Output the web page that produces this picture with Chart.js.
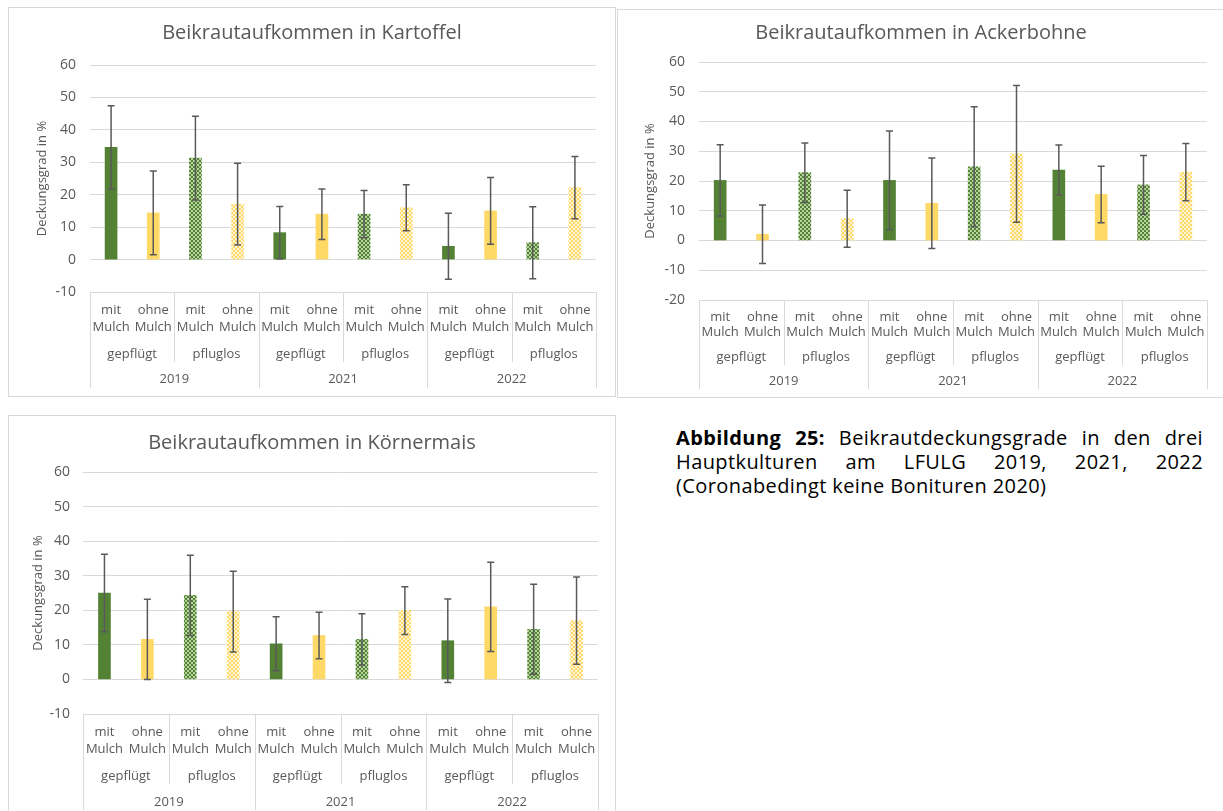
<!DOCTYPE html>
<html>
<head>
<meta charset="utf-8">
<script src="https://cdn.jsdelivr.net/npm/chart.js@4.4.1/dist/chart.umd.min.js"></script>
<style>
  body { margin: 0; background: #fff; width: 1223px; height: 811px; overflow: hidden; position: relative; font-family: "Open Sans", sans-serif; }
  .box { position: absolute; border: 1px solid #d9d9d9; background: #fff; }
  .box canvas { display: block; }
  #caption { position: absolute; left: 676px; top: 426px; width: 527px; font-size: 20px; letter-spacing: 0.4px; line-height: 24px; color: #000; }
  #caption div { text-align: justify; text-align-last: justify; }
  #caption div.last { text-align-last: left; }
</style>
</head>
<body>
<div class="box" style="left:8px;top:7px;width:606px;height:388px"><canvas id="kartoffel" width="606" height="388"></canvas></div>
<div class="box" style="left:617px;top:9px;width:606px;height:387px"><canvas id="ackerbohne" width="606" height="387"></canvas></div>
<div class="box" style="left:8px;top:415px;width:606px;height:400px"><canvas id="koernermais" width="606" height="400"></canvas></div>
<div id="caption">
  <div><b>Abbildung 25:</b> Beikrautdeckungsgrade in den drei</div>
  <div>Hauptkulturen am LFULG 2019, 2021, 2022</div>
  <div class="last">(Coronabedingt keine Bonituren 2020)</div>
</div>
<script>
// category levels: mulch inside tillage inside year
const mulchLabels = [['mit', 'Mulch'], ['ohne', 'Mulch']];
const tillageLabels = ['gepflügt', 'pfluglos'];
const yearLabels = ['2019', '2021', '2022'];

// mean weed cover (%) and standard deviation per category
const kartoffelMean = [34.6, 14.4, 31.3, 17.1, 8.3, 14.0, 14.0, 16.0, 4.1, 15.0, 5.2, 22.2];
const kartoffelSd = [12.8, 12.9, 12.9, 12.6, 8.1, 7.8, 7.3, 7.1, 10.2, 10.3, 11.1, 9.6];

const ackerbohneMean = [20.2, 2.1, 22.8, 7.3, 20.2, 12.5, 24.8, 29.1, 23.7, 15.5, 18.7, 23.0];
const ackerbohneSd = [12.0, 9.8, 10.0, 9.6, 16.6, 15.2, 20.2, 23.0, 8.4, 9.5, 9.9, 9.6];

const koernermaisMean = [25.0, 11.6, 24.3, 19.6, 10.3, 12.7, 11.6, 19.9, 11.2, 21.0, 14.5, 17.0];
const koernermaisSd = [11.2, 11.6, 11.6, 11.7, 7.8, 6.7, 7.4, 6.9, 12.1, 12.9, 13.0, 12.6];

const grey = '#595959';
const gridGrey = '#d9d9d9';
const font = '"Open Sans"';

const categories = yearLabels.flatMap(() => tillageLabels.flatMap(() => mulchLabels));

// small checkerboard used for the "pfluglos" bars
const checker = (base, light) => {
    const c = document.createElement('canvas');
    c.width = c.height = 4;
    const g = c.getContext('2d');
    g.fillStyle = base;
    g.fillRect(0, 0, 4, 4);
    g.fillStyle = light;
    g.fillRect(0, 0, 2, 2);
    g.fillRect(2, 2, 2, 2);
    return g.createPattern(c, 'repeat');
};

const green = '#548235';
const yellow = '#ffd966';
const fillCycle = [green, yellow, checker(green, '#b7d4a0'), checker(yellow, '#fff5d6')];
const fills = categories.map((c, i) => fillCycle[i % 4]);

// +/- standard deviation whiskers
const errorBars = {
    id: 'errorBars',
    afterDatasetsDraw(chart, args, opts) {
        const ctx = chart.ctx;
        const y = chart.scales.y;
        const values = chart.data.datasets[0].data;
        ctx.save();
        ctx.strokeStyle = grey;
        ctx.lineWidth = 1.5;
        chart.getDatasetMeta(0).data.forEach((bar, i) => {
            const hi = y.getPixelForValue(values[i] + opts.sd[i]);
            const lo = y.getPixelForValue(values[i] - opts.sd[i]);
            ctx.beginPath();
            ctx.moveTo(bar.x, hi); ctx.lineTo(bar.x, lo);
            ctx.moveTo(bar.x - 3.5, hi); ctx.lineTo(bar.x + 3.5, hi);
            ctx.moveTo(bar.x - 3.5, lo); ctx.lineTo(bar.x + 3.5, lo);
            ctx.stroke();
        });
        ctx.restore();
    }
};

// three-level category axis drawn as a table under the plot
const categoryTable = {
    id: 'categoryTable',
    afterDraw(chart, args, opts) {
        const {ctx, chartArea} = chart;
        const x = chart.scales.x;
        const n = chart.data.labels.length;
        const top = chartArea.bottom;
        const edge = i => i === 0 ? chartArea.left : i === n ? chartArea.right
            : (x.getPixelForValue(i - 1) + x.getPixelForValue(i)) / 2;
        ctx.save();
        ctx.strokeStyle = gridGrey;
        ctx.lineWidth = 1;
        for (let i = 0; i <= n; i += 2) {
            const xx = Math.round(edge(i)) + 0.5;
            ctx.beginPath();
            ctx.moveTo(xx, top);
            ctx.lineTo(xx, top + (i % 4 === 0 ? opts.rows[4] : opts.rows[3]));
            ctx.stroke();
        }
        ctx.fillStyle = grey;
        ctx.textAlign = 'center';
        ctx.textBaseline = 'middle';
        ctx.font = opts.size + 'px ' + font;
        chart.data.labels.forEach((lab, i) => {
            const cx = x.getPixelForValue(i);
            ctx.fillText(lab[0], cx, top + opts.rows[0]);
            ctx.fillText(lab[1], cx, top + opts.rows[1]);
        });
        for (let i = 0; i < n; i += 2) {
            ctx.fillText(tillageLabels[(i / 2) % 2], (edge(i) + edge(i + 2)) / 2, top + opts.rows[2]);
        }
        for (let i = 0; i < n; i += 4) {
            ctx.fillText(yearLabels[i / 4], (edge(i) + edge(i + 4)) / 2, top + opts.rows[5]);
        }
        ctx.restore();
    }
};

const drawChart = (id, title, means, sd, yMin, lay) => {
    new Chart(document.getElementById(id), {
        type: 'bar',
        data: {
            labels: categories,
            datasets: [{
                data: means,
                backgroundColor: fills,
                barThickness: 12,
            }]
        },
        plugins: [errorBars, categoryTable],
        options: {
            responsive: false,
            animation: false,
            devicePixelRatio: 1,
            layout: { padding: { left: 0, right: 0, top: 0, bottom: lay.bottom } },
            plugins: {
                legend: { display: false },
                tooltip: { enabled: false },
                title: {
                    display: true,
                    text: title,
                    color: grey,
                    font: { family: font, size: 20, weight: 'normal' },
                    padding: { top: lay.titleTop, bottom: lay.titleBottom }
                },
                errorBars: { sd: sd },
                categoryTable: { rows: lay.rows, size: 13 }
            },
            scales: {
                x: { display: false },
                y: {
                    min: yMin,
                    max: 60,
                    afterFit: s => { s.width = lay.axis; },
                    ticks: { stepSize: 10, color: grey, padding: lay.tickPad, font: { family: font, size: 14 } },
                    grid: { color: gridGrey, drawTicks: false },
                    border: { display: false },
                    title: {
                        display: true,
                        text: 'Deckungsgrad in %',
                        color: grey,
                        font: { family: font, size: 13 },
                        padding: { top: lay.yTitle, bottom: 0 }
                    }
                },
                // empty right-hand margin, keeps the title centred on the whole frame
                margin: {
                    position: 'right',
                    ticks: { display: false },
                    grid: { display: false },
                    border: { display: false },
                    afterFit: s => { s.width = lay.right; }
                }
            }
        }
    });
};

drawChart('kartoffel', 'Beikrautaufkommen in Kartoffel', kartoffelMean, kartoffelSd, -10,
    { right: 19, bottom: 104, titleTop: 13, titleBottom: 20, axis: 81, tickPad: 14, yTitle: 25,
      rows: [18, 35, 62, 70, 96, 87] });
drawChart('ackerbohne', 'Beikrautaufkommen in Ackerbohne', ackerbohneMean, ackerbohneSd, -20,
    { right: 17, bottom: 97, titleTop: 11, titleBottom: 17, axis: 81, tickPad: 14, yTitle: 24,
      rows: [17, 32, 57, 65, 89, 81] });
drawChart('koernermais', 'Beikrautaufkommen in Körnermais', koernermaisMean, koernermaisSd, -10,
    { right: 17, bottom: 102, titleTop: 15, titleBottom: 17, axis: 74, tickPad: 13, yTitle: 21,
      rows: [18, 35, 62, 70, 96, 88] });
</script>
</body>
</html>
